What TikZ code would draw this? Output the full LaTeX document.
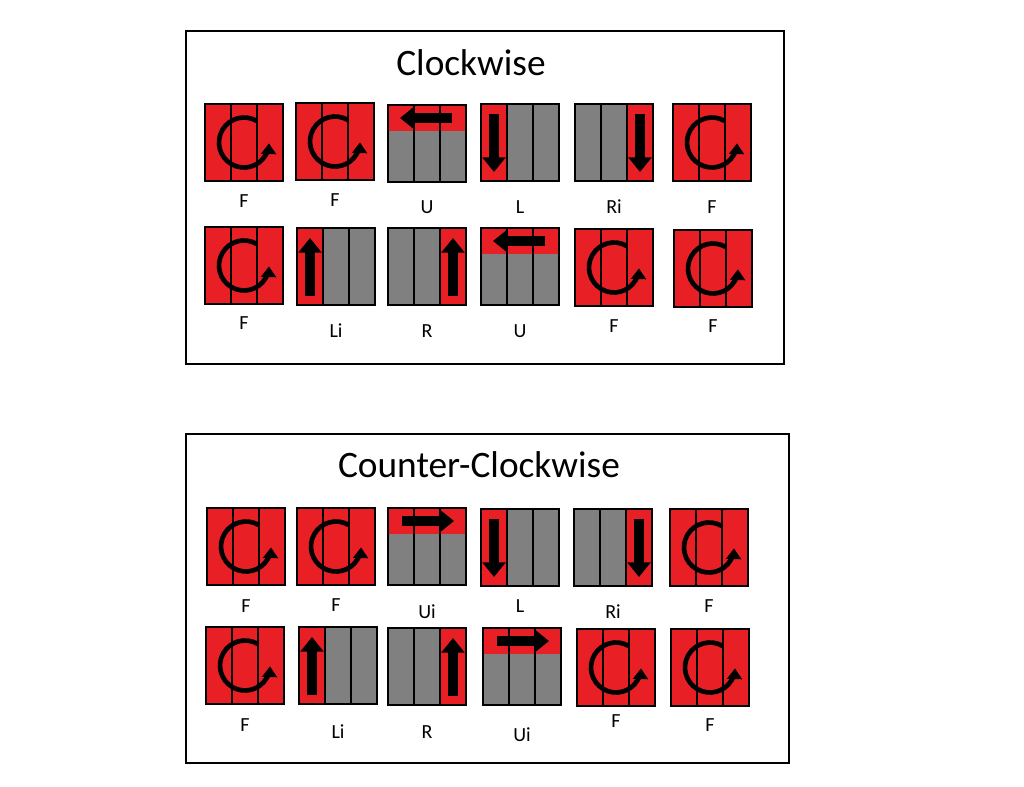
\documentclass[tikz,border=0pt]{standalone}
\usepackage{fontspec}
\setmainfont{Carlito}
\usetikzlibrary{arrows.meta}
\definecolor{cr}{RGB}{232,32,38}
\definecolor{cg}{RGB}{128,128,128}
\tikzset{
  grid/.style={draw=black,line width=1.1pt},
  lab/.style={font=\fontsize{15}{15}\selectfont,anchor=base},
  ttl/.style={font=\fontsize{28}{28}\selectfont},
  frame/.style={draw=black,line width=2pt},
  blk/.style={line width=7.5pt,-{Triangle[length=11pt,width=17pt]}},
  circ/.style={line width=3.5pt,-{Triangle[length=8pt,width=11pt]}}
}
% #1 x, #2 y, #3 type, #4 label, #5 label base y, #6 name
\newcommand\tile[6]{%
 \begin{scope}[shift={(#1,#2)}]
  \ifcase#3
   % 0 F
   \fill[cr] (0,0) rectangle (78,77);
  \or % 1 U
   \fill[cg] (0,0) rectangle (78,77); \fill[cr] (0,0) rectangle (78,25.7);
  \or % 2 Ui
   \fill[cg] (0,0) rectangle (78,77); \fill[cr] (0,0) rectangle (78,25.7);
  \or % 3 L
   \fill[cg] (0,0) rectangle (78,77); \fill[cr] (0,0) rectangle (26,77);
  \or % 4 Li
   \fill[cg] (0,0) rectangle (78,77); \fill[cr] (0,0) rectangle (26,77);
  \or % 5 R
   \fill[cg] (0,0) rectangle (78,77); \fill[cr] (52,0) rectangle (78,77);
  \or % 6 Ri
   \fill[cg] (0,0) rectangle (78,77); \fill[cr] (52,0) rectangle (78,77);
  \fi
  \draw[grid] (0,0) grid[xstep=26,ystep=25.667] (78,77) (0,0) rectangle (78,77);
  \ifcase#3
   \draw[circ] (39,38.5) ++(-60:25) arc[start angle=-60,end angle=-358,radius=25];
  \or \draw[blk] (64,13) -- (12,13);
  \or \draw[blk] (14,13) -- (66,13);
  \or \draw[blk] (13,10) -- (13,68);
  \or \draw[blk] (13,68) -- (13,10);
  \or \draw[blk] (65,68) -- (65,10);
  \or \draw[blk] (65,10) -- (65,68);
  \fi
 \end{scope}
 \node[lab] (#6) at (#1+39,#5) {#4};%
}
\begin{document}
\begin{tikzpicture}[x=0.75pt,y=-0.75pt]
\useasboundingbox (0,0) rectangle (1024,787);
\draw[frame] (186,31) rectangle (784,364);
\node[ttl] (t1) at (471,63) {Clockwise};
\tile{205}{104}{0}{F}{208}{a1}
\tile{296}{103}{0}{F}{207}{a2}
\tile{388}{105}{1}{U}{214}{a3}
\tile{481}{104}{3}{L}{214}{a4}
\tile{575}{104}{6}{Ri}{214}{a5}
\tile{673}{104}{0}{F}{214}{a6}
\tile{205}{227}{0}{F}{330}{b1}
\tile{297}{228}{4}{Li}{338}{b2}
\tile{388}{228}{5}{R}{338}{b3}
\tile{481}{228}{1}{U}{338}{b4}
\tile{575}{229}{0}{F}{333}{b5}
\tile{674}{230}{0}{F}{333}{b6}
\draw[frame] (186,434) rectangle (789,763);
\node[ttl] (t2) at (479,465) {Counter-Clockwise};
\tile{207}{508}{0}{F}{612}{c1}
\tile{297}{508}{0}{F}{611}{c2}
\tile{388}{508}{2}{Ui}{618}{c3}
\tile{481}{509}{3}{L}{612}{c4}
\tile{574}{509}{6}{Ri}{618}{c5}
\tile{670}{509}{0}{F}{612}{c6}
\tile{206}{627}{0}{F}{731}{d1}
\tile{299}{627}{4}{Li}{738}{d2}
\tile{388}{628}{5}{R}{738}{d3}
\tile{483}{628}{2}{Ui}{741}{d4}
\tile{577}{629}{0}{F}{727}{d5}
\tile{671}{629}{0}{F}{731}{d6}
\end{tikzpicture}
\end{document}
